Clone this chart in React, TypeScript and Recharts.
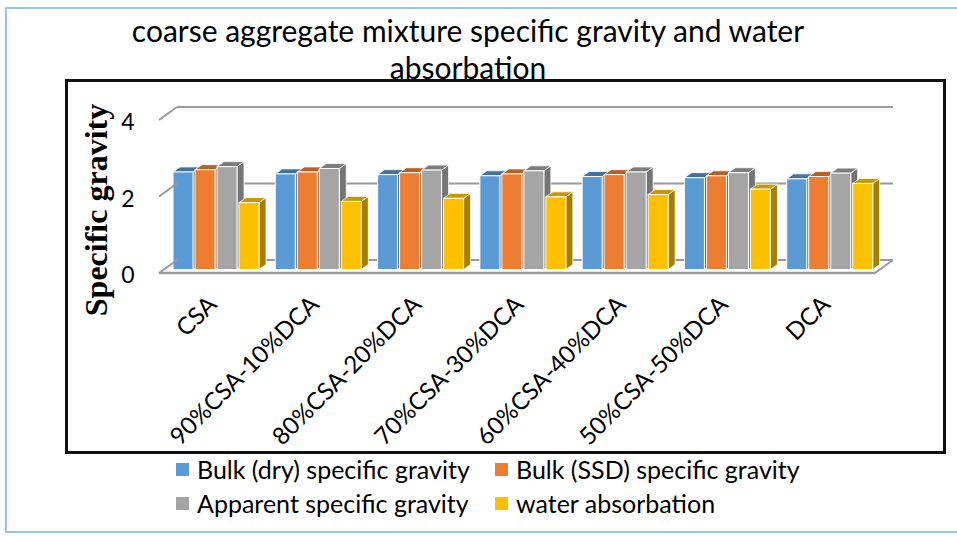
import React from 'react'
import { BarChart, Bar, XAxis, YAxis, CartesianGrid } from 'recharts'

const categories = ['CSA', '90%CSA-10%DCA', '80%CSA-20%DCA', '70%CSA-30%DCA', '60%CSA-40%DCA', '50%CSA-50%DCA', 'DCA']
const bulkDry = [2.55, 2.5, 2.48, 2.45, 2.43, 2.4, 2.37]
const bulkSsd = [2.61, 2.55, 2.53, 2.5, 2.48, 2.45, 2.43]
const apparent = [2.69, 2.64, 2.6, 2.58, 2.55, 2.53, 2.52]
const waterAbs = [1.75, 1.78, 1.86, 1.9, 1.96, 2.1, 2.25]
const yTicks = [0, 2, 4]
const Y_MAX = 4

const series = [
  { key: 'bulkDry', name: 'Bulk (dry) specific gravity', front: '#5B9BD5', top: '#41719C', side: '#3B6894' },
  { key: 'bulkSsd', name: 'Bulk (SSD) specific gravity', front: '#ED7D31', top: '#B85F25', side: '#AE5A21' },
  { key: 'apparent', name: 'Apparent specific gravity', front: '#A5A5A5', top: '#7C7C7C', side: '#757575' },
  { key: 'waterAbs', name: 'water absorbation', front: '#FFC000', top: '#C99800', side: '#A67E00' },
]

const data = categories.map((c, i) => ({
  name: c,
  bulkDry: bulkDry[i],
  bulkSsd: bulkSsd[i],
  apparent: apparent[i],
  waterAbs: waterAbs[i],
}))

// layout
const W = 957
const H = 536
const PLOT_LEFT = 159
const PLOT_RIGHT = 875
const PLOT_TOP = 120
const PLOT_BOTTOM = 273
const DEPTH_X = 18
const DEPTH_Y = 13
const SANS = 'Lato, "Open Sans", sans-serif'
const GRID = '#9a9a9a'

// small 3D box per bar, pushed a bit back into the floor
const box3d = (s: typeof series[number]) => (props: any) => {
  const { x, y, width, height } = props
  if (x == null || height == null || height <= 0) return null
  const fx = x + 6
  const fy = y - 3.5
  const d = 7
  const e = 5
  const w = width
  const h = height
  return (
    <g>
      <polygon
        points={`${fx + w},${fy} ${fx + w + d},${fy - e} ${fx + w + d},${fy + h - e} ${fx + w},${fy + h}`}
        fill={s.side}
        stroke="#fff"
        strokeWidth={0.8}
      />
      <polygon
        points={`${fx},${fy} ${fx + d},${fy - e} ${fx + w + d},${fy - e} ${fx + w},${fy}`}
        fill={s.top}
        stroke="#fff"
        strokeWidth={0.8}
      />
      <rect x={fx} y={fy} width={w} height={h} fill={s.front} stroke="#fff" strokeWidth={1} />
    </g>
  )
}

const XTick = ({ x, payload }: any) => {
  const ax = x + 8
  const ay = PLOT_BOTTOM + 33
  return (
    <text x={ax} y={ay} transform={`rotate(-45, ${ax}, ${ay})`} textAnchor="end" fontSize={24} fontFamily={SANS} fill="#000">
      {payload.value}
    </text>
  )
}

const YTick = ({ y, payload }: any) => (
  <g>
    <line x1={PLOT_LEFT} y1={y} x2={PLOT_LEFT + DEPTH_X} y2={y - DEPTH_Y} stroke={GRID} strokeWidth={2} />
    {payload.value === 0 && (
      <line x1={PLOT_RIGHT} y1={y} x2={PLOT_RIGHT + DEPTH_X} y2={y - DEPTH_Y} stroke={GRID} strokeWidth={2} />
    )}
    <text x={PLOT_LEFT - 31} y={y + 2} dy="0.36em" textAnchor="middle" fontSize={23} fontFamily={SANS} fill="#000">
      {payload.value}
    </text>
  </g>
)

// back-wall gridlines, shifted by the 3D depth
const backGrid = ({ yAxis, offset }: any) =>
  yTicks.map((t) => {
    const sc = yAxis && yAxis.scale
    let py: number
    if (typeof sc === 'function') py = sc(t)
    else if (sc && typeof sc.map === 'function') py = sc.map(t)
    else py = offset.top + offset.height * (1 - t / Y_MAX)
    return py - DEPTH_Y
  })

export default function App() {
  return (
    <div style={{ position: 'absolute', left: 0, top: 0, width: W, height: H, background: '#fff', overflow: 'hidden' }}>
      <div style={{ position: 'absolute', left: 5, top: 7, width: 980, height: 526, border: '2px solid #9DC3E6', boxSizing: 'border-box' }} />
      <div style={{ position: 'absolute', left: 65, top: 79, width: 881, height: 375, border: '3px solid #111', boxSizing: 'border-box' }} />

      <div style={{ position: 'absolute', left: 0, top: 0 }}>
        <BarChart
          width={W}
          height={H}
          data={data}
          margin={{ top: PLOT_TOP, right: W - PLOT_RIGHT, bottom: 0, left: PLOT_LEFT - 60 }}
          barSize={20}
          barGap={2}
        >
          <CartesianGrid
            vertical={false}
            stroke={GRID}
            strokeWidth={2}
            x={PLOT_LEFT + DEPTH_X}
            width={PLOT_RIGHT - PLOT_LEFT}
            horizontalCoordinatesGenerator={backGrid}
          />
          <XAxis
            dataKey="name"
            height={H - PLOT_BOTTOM}
            tickLine={false}
            axisLine={{ stroke: GRID, strokeWidth: 2.5 }}
            interval={0}
            tick={<XTick />}
          />
          <YAxis width={60} domain={[0, Y_MAX]} ticks={yTicks} axisLine={false} tickLine={false} tick={<YTick />} />
          {series.map((s) => (
            <Bar key={s.key} dataKey={s.key} name={s.name} fill={s.front} shape={box3d(s)} isAnimationActive={false} />
          ))}
        </BarChart>
      </div>

      <div
        style={{
          position: 'absolute',
          left: 88,
          top: 12,
          width: 760,
          textAlign: 'center',
          fontFamily: SANS,
          fontSize: 30,
          lineHeight: '37px',
          color: '#000',
        }}
      >
        coarse aggregate mixture specific gravity and water absorbation
      </div>

      <svg style={{ position: 'absolute', left: 0, top: 0 }} width={200} height={400}>
        <text
          x={96}
          y={210}
          transform="rotate(-90, 96, 210)"
          textAnchor="middle"
          dominantBaseline="central"
          fontFamily='"Liberation Serif", "Times New Roman", serif'
          fontWeight="bold"
          fontSize={32}
          fill="#000"
        >
          Specific gravity
        </text>
      </svg>

      <div
        style={{
          position: 'absolute',
          left: 176,
          top: 452,
          display: 'grid',
          gridTemplateColumns: '319px 330px',
          fontFamily: SANS,
          fontSize: 25,
          lineHeight: '34px',
          color: '#000',
        }}
      >
        {series.map((s) => (
          <div key={s.key} style={{ display: 'flex', alignItems: 'center', whiteSpace: 'nowrap' }}>
            <span style={{ display: 'inline-block', width: 13, height: 13, background: s.front, marginRight: 8 }} />
            {s.name}
          </div>
        ))}
      </div>
    </div>
  )
}
